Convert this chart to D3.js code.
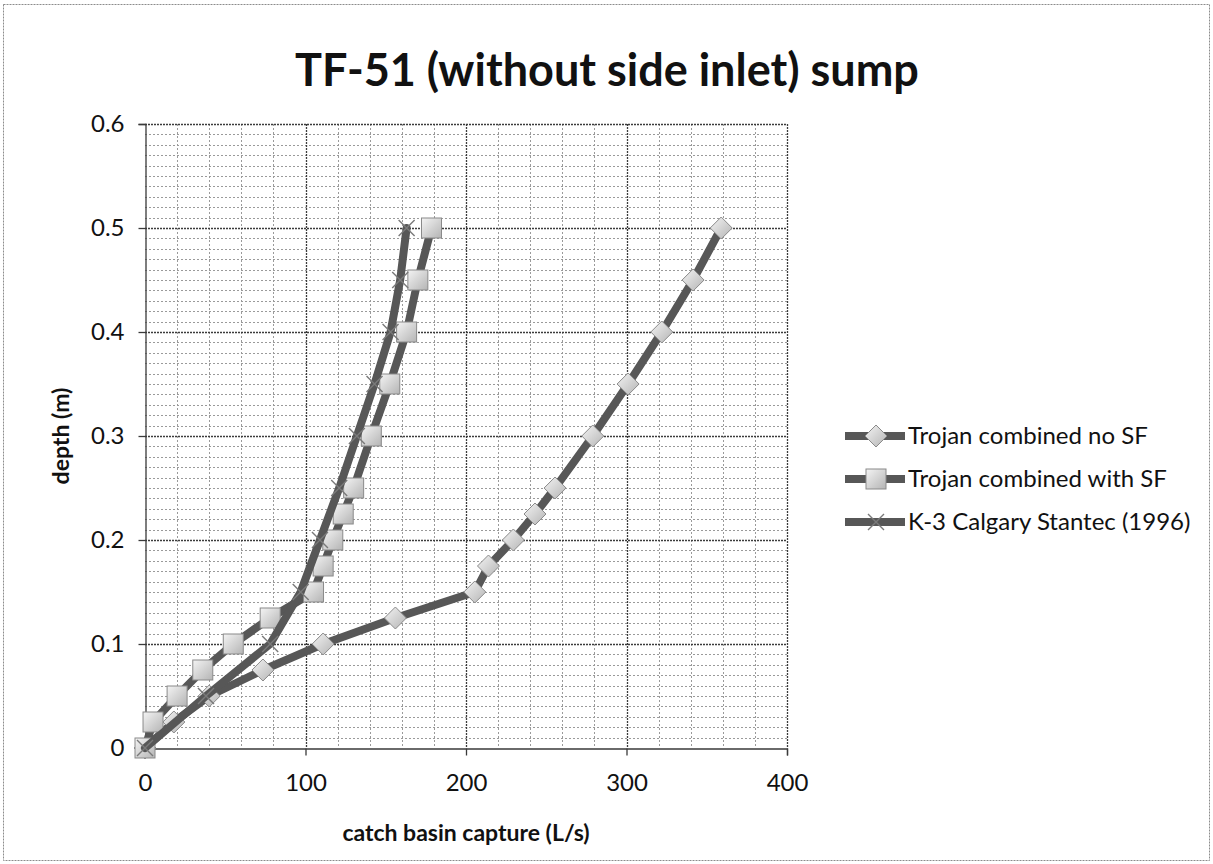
<!DOCTYPE html>
<html><head><meta charset="utf-8">
<script src="https://cdn.jsdelivr.net/npm/d3@7"></script>
<style>
html,body{margin:0;padding:0;background:#fff;}
svg{display:block;}
text{font-family:Lato,"Open Sans",sans-serif;fill:#111;}
</style></head><body>
<svg id="chart" width="1213" height="864"></svg>
<script>
// ---- chart text ----
const chartTitle = "TF-51 (without side inlet) sump";
const xTitle = "catch basin capture (L/s)";
const yTitle = "depth (m)";
const seriesNames = ["Trojan combined no SF", "Trojan combined with SF", "K-3 Calgary Stantec (1996)"];

// ---- series: capture flow (L/s) against depth (m) ----
const noSfFlow   = [0, 18, 40, 73.5, 111, 156, 205.5, 214, 229.5, 243, 255.5, 279, 301, 322, 341.5, 359];
const noSfDepth  = [0, 0.025, 0.05, 0.075, 0.1, 0.125, 0.15, 0.175, 0.2, 0.225, 0.25, 0.3, 0.35, 0.4, 0.45, 0.5];

const withSfFlow  = [0, 5, 20, 36, 55, 78, 105, 111, 117, 123.5, 130, 141, 152.5, 163, 170, 178.5];
const withSfDepth = [0, 0.025, 0.05, 0.075, 0.1, 0.125, 0.15, 0.175, 0.2, 0.225, 0.25, 0.3, 0.35, 0.4, 0.45, 0.5];

const k3Flow  = [0, 38, 78, 97, 109, 121, 132, 143, 153, 159, 163];
const k3Depth = [0, 0.05, 0.1, 0.15, 0.2, 0.25, 0.3, 0.35, 0.4, 0.45, 0.5];

// ---- axis ticks ----
const xTicks = [0, 100, 200, 300, 400];
const yTicks = [0, 0.1, 0.2, 0.3, 0.4, 0.5, 0.6];
const xMinorStep = 20;
const yMinorStep = 0.01;

const svg = d3.select("#chart");
const W = 1213, H = 864;
const plot = {left: 145, right: 787, top: 124, bottom: 748};

const x = d3.scaleLinear().domain([0, 400]).range([plot.left, plot.right]);
const y = d3.scaleLinear().domain([0, 0.6]).range([plot.bottom, plot.top]);

// marker fill gradient
const defs = svg.append("defs");
const grad = defs.append("linearGradient").attr("id", "mk").attr("x1", "0").attr("y1", "0").attr("x2", "1").attr("y2", "1");
grad.append("stop").attr("offset", "0%").attr("stop-color", "#f4f4f4");
grad.append("stop").attr("offset", "100%").attr("stop-color", "#b4b4b4");

// chart area border
svg.append("rect")
  .attr("x", 3.5).attr("y", 4.5).attr("width", W - 7).attr("height", H - 8)
  .attr("fill", "#fff").attr("stroke", "#8c8c8c").attr("stroke-width", 1)
  .attr("stroke-dasharray", "2,1");

// title
svg.append("text")
  .attr("x", 607).attr("y", 86)
  .attr("text-anchor", "middle")
  .style("font-size", "45px").style("font-weight", "700")
  .text(chartTitle);

// ---- gridlines ----
const grid = svg.append("g");
const xMinor = d3.range(0, 400 + 1e-9, xMinorStep).filter(v => !xTicks.includes(v));
const yMinor = d3.range(0, 60 + 1e-9, 1).map(v => v * yMinorStep)
  .filter(v => !yTicks.some(t => Math.abs(t - v) < 1e-6));

grid.selectAll("line.hmin").data(yMinor).join("line")
  .attr("x1", plot.left).attr("x2", plot.right)
  .attr("y1", d => Math.round(y(d)) + 0.5).attr("y2", d => Math.round(y(d)) + 0.5)
  .attr("stroke", "#9a9a9a").attr("stroke-width", 1).attr("stroke-dasharray", "2,2");

grid.selectAll("line.vmin").data(xMinor).join("line")
  .attr("y1", plot.top).attr("y2", plot.bottom)
  .attr("x1", d => Math.round(x(d)) + 0.5).attr("x2", d => Math.round(x(d)) + 0.5)
  .attr("stroke", "#9a9a9a").attr("stroke-width", 1).attr("stroke-dasharray", "2,2");

grid.selectAll("line.hmaj").data(yTicks.filter(v => v > 0)).join("line")
  .attr("x1", plot.left).attr("x2", plot.right)
  .attr("y1", d => Math.round(y(d)) + 0.5).attr("y2", d => Math.round(y(d)) + 0.5)
  .attr("stroke", "#3c3c3c").attr("stroke-width", 1.3).attr("stroke-dasharray", "2,1");

grid.selectAll("line.vmaj").data(xTicks.filter(v => v > 0)).join("line")
  .attr("y1", plot.top).attr("y2", plot.bottom)
  .attr("x1", d => Math.round(x(d)) + 0.5).attr("x2", d => Math.round(x(d)) + 0.5)
  .attr("stroke", "#3c3c3c").attr("stroke-width", 1.3).attr("stroke-dasharray", "2,1");

// ---- axes ----
const fmt = d3.format("");
const xAxis = svg.append("g")
  .attr("transform", `translate(0,${plot.bottom + 0.5})`)
  .call(d3.axisBottom(x).tickValues(xTicks).tickSize(7).tickPadding(18).tickFormat(fmt));
const yAxis = svg.append("g")
  .attr("transform", `translate(${plot.left + 0.5},0)`)
  .call(d3.axisLeft(y).tickValues(yTicks).tickSize(7).tickPadding(14).tickFormat(fmt));

[xAxis, yAxis].forEach(g => {
  g.select(".domain").attr("stroke", "#3a3a3a").attr("stroke-width", 1.3);
  g.selectAll(".tick line").attr("stroke", "#3a3a3a").attr("stroke-width", 1.3);
  g.selectAll(".tick text").style("font-size", "24px").style("font-family", "Lato, sans-serif").attr("fill", "#111");
});

// axis titles
svg.append("text")
  .attr("x", (plot.left + plot.right) / 2).attr("y", 841)
  .attr("text-anchor", "middle")
  .style("font-size", "23px").style("font-weight", "700")
  .text(xTitle);

svg.append("text")
  .attr("transform", `translate(69,${(plot.top + plot.bottom) / 2}) rotate(-90)`)
  .attr("text-anchor", "middle")
  .style("font-size", "23px").style("font-weight", "700")
  .text(yTitle);

// ---- series ----
const lineColor = "#575757";
const series = [
  {name: seriesNames[0], flow: noSfFlow, depth: noSfDepth, marker: "diamond"},
  {name: seriesNames[1], flow: withSfFlow, depth: withSfDepth, marker: "square"},
  {name: seriesNames[2], flow: k3Flow, depth: k3Depth, marker: "x"}
];

function drawMarker(g, kind) {
  if (kind === "diamond") {
    const r = 11;
    g.append("path").attr("d", `M0,${-r}L${r},0L0,${r}L${-r},0Z`)
      .attr("fill", "url(#mk)").attr("stroke", "#8a8a8a").attr("stroke-width", 1);
  } else if (kind === "square") {
    const s = 10;
    g.append("rect").attr("x", -s).attr("y", -s).attr("width", 2 * s).attr("height", 2 * s)
      .attr("fill", "url(#mk)").attr("stroke", "#8a8a8a").attr("stroke-width", 1);
  } else {
    const r = 8;
    g.append("path").attr("d", `M${-r},${-r}L${r},${r}M${-r},${r}L${r},${-r}`)
      .attr("stroke", "#7a7a7a").attr("stroke-width", 1.4).attr("fill", "none");
  }
}

const line = d3.line().x(d => x(d[0])).y(d => y(d[1]));
const seriesLayer = svg.append("g");
series.forEach(s => {
  const pts = s.flow.map((f, i) => [f, s.depth[i]]);
  const g = seriesLayer.append("g");
  g.append("path").datum(pts).attr("d", line)
    .attr("fill", "none").attr("stroke", lineColor).attr("stroke-width", 8)
    .attr("stroke-linejoin", "round").attr("stroke-linecap", "round");
  g.selectAll("g.mk").data(pts).join("g")
    .attr("transform", d => `translate(${x(d[0])},${y(d[1])})`)
    .each(function () { drawMarker(d3.select(this), s.marker); });
});

// ---- legend ----
const legendRows = [436, 479, 522];
const legend = svg.append("g");
series.forEach((s, i) => {
  const ry = legendRows[i];
  const g = legend.append("g");
  g.append("line").attr("x1", 845).attr("x2", 905).attr("y1", ry).attr("y2", ry)
    .attr("stroke", lineColor).attr("stroke-width", 8);
  const m = g.append("g").attr("transform", `translate(876,${ry})`);
  drawMarker(m, s.marker);
  g.append("text").attr("x", 908).attr("y", ry + 8)
    .style("font-size", "24px")
    .text(s.name);
});
</script>
</body></html>
